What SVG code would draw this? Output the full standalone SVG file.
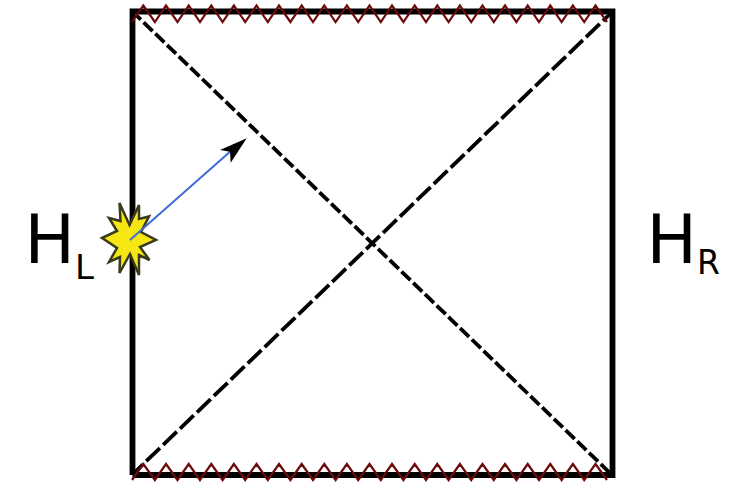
<svg xmlns="http://www.w3.org/2000/svg" width="742" height="482" viewBox="0 0 742 482">
<style>
.frame{fill:none;stroke:#000;stroke-width:5.800}
.diag{fill:none;stroke:#000;stroke-width:3.800}
.zig{fill:none;stroke:#6b0a0a;stroke-width:2.200}
text{font-family:"DejaVu Sans",sans-serif;fill:#000}
</style>
<rect width="742" height="482" fill="#fff"/>
<g id="frame"><path class="frame" d="M132.500 475V11.500H612.500V475H132.500"/></g>
<g id="star"><path d="M102 238L117 231L109 218L120.500 221L119.500 203L129.500 225L139 205L139 219L149 216.500L141 232L156 240L140 247L149.500 260L139 255L139 275L130 254L119.500 273L120 257L109 262L117 248Z" fill="#f5e614" stroke="#3a3a1c" stroke-width="2.500" stroke-linejoin="miter"/></g>
<g id="connectors">
<path class="diag" stroke-dasharray="12.500 3.800" stroke-dashoffset="5.700" d="M136 15L610 473"/>
<path class="diag" stroke-dasharray="19 4.500" stroke-dashoffset="6.500" d="M134 473L610 14"/>
<path d="M130 240L232 150" fill="none" stroke="#4169d8" stroke-width="2"/>
<path d="M246.700 138.300L220 150L230 151.700L230.700 162.700Z" fill="#000"/>
</g>
<g id="singularity-top"><path class="zig" d="M132 22L143.300 5.500L154.900 22L166 5.500L177.500 22L188.700 5.500L200 22L211.300 5.500L222.600 22L233.900 5.500L245.200 22L256.500 5.500L267.800 22L279 5.500L290.400 22L301.700 5.500L313 22L324.300 5.500L335.600 22L346.900 5.500L358.200 22L369.500 5.500L380.800 22L392 5.500L403.400 22L414.700 5.500L426 22L437.300 5.500L448.600 22L459.900 5.500L471.200 22L482.500 5.500L493.800 22L505 5.500L516.400 22L527.700 5.500L539 22L550.300 5.500L561.600 22L572.900 5.500L584.200 22L595.500 5.500L607 22"/></g>
<g id="singularity-bottom"><path class="zig" d="M132 480L143.300 464L154.900 480L166 464L177.500 480L188.700 464L200 480L211.300 464L222.600 480L233.900 464L245.200 480L256.500 464L267.800 480L279 464L290.400 480L301.700 464L313 480L324.300 464L335.600 480L346.900 464L358.200 480L369.500 464L380.800 480L392 464L403.400 480L414.700 464L426 480L437.300 464L448.600 480L459.900 464L471.200 480L482.500 464L493.800 480L505 464L516.400 480L527.700 464L539 480L550.300 464L561.600 480L572.900 464L584.200 480L595.500 464L607 480"/></g>
<g id="label-left"><text x="24.500" y="263" font-size="67">H</text><text x="75" y="279" font-size="34">L</text></g>
<g id="label-right"><text x="646.500" y="263" font-size="67">H</text><text x="697" y="274" font-size="33">R</text></g>
</svg>
